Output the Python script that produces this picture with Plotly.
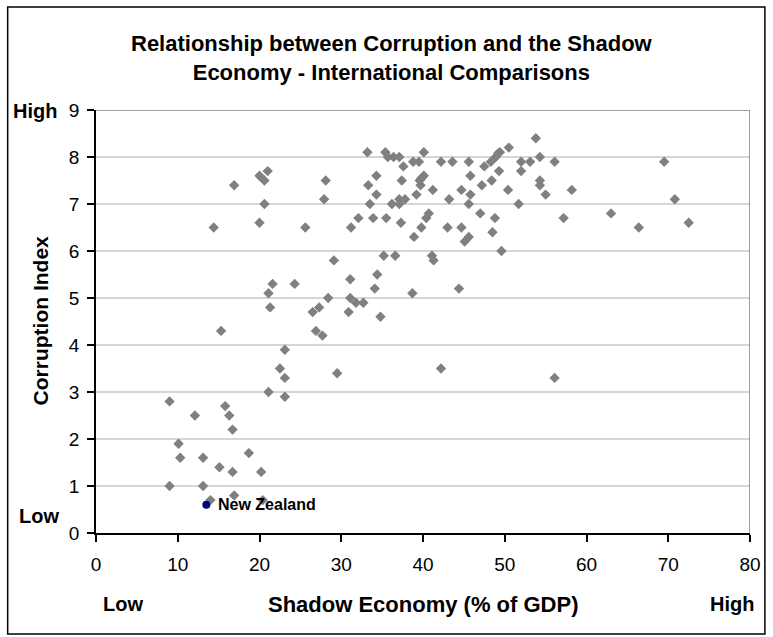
import plotly.graph_objects as go

# Shadow economy (% of GDP) and corruption index per country
shadow_economy = [
    21.0, 20.0, 20.6, 16.9, 20.6, 20.0, 14.4, 25.6, 33.2, 35.4,
    35.7, 36.4, 37.1, 40.1, 38.8, 39.5, 42.2, 43.6, 45.6, 37.6,
    34.3, 28.1, 33.3, 37.4, 40.1, 39.8, 39.6, 39.7, 34.3, 39.2,
    41.2, 27.9, 33.5, 36.2, 37.1, 37.1, 37.8, 32.1, 33.9, 35.5,
    31.2, 37.3, 39.8, 38.9, 40.7, 40.4, 43.0, 43.2, 44.7, 45.8,
    45.8, 45.6, 44.7, 45.6, 45.1, 47.0, 47.2, 47.5, 48.3, 48.9,
    49.2, 49.4, 50.5, 49.3, 48.4, 50.4, 48.8, 48.5, 49.6, 51.7,
    52.0, 52.0, 29.1, 31.1, 34.4, 35.2, 36.6, 41.1, 41.3, 53.8,
    54.3, 53.1, 56.1, 54.3, 54.3, 55.0, 58.2, 57.2, 69.5, 70.8,
    63.0, 66.4, 72.5, 21.6, 24.3, 21.1, 21.3, 26.5, 27.3, 26.9,
    15.3, 23.1, 22.5, 23.1, 21.1, 23.1, 9.0, 12.1, 15.8, 16.3,
    16.7, 10.1, 10.3, 13.1, 15.1, 16.7, 18.7, 20.2, 9.0, 13.1,
    14.0, 16.9, 20.4, 34.1, 38.7, 44.4, 28.4, 31.1, 31.8, 32.7,
    30.9, 34.8, 27.7, 29.5, 42.2, 56.1,
]
corruption_index = [
    7.7, 7.6, 7.5, 7.4, 7.0, 6.6, 6.5, 6.5, 8.1, 8.1,
    8.0, 8.0, 8.0, 8.1, 7.9, 7.9, 7.9, 7.9, 7.9, 7.8,
    7.6, 7.5, 7.4, 7.5, 7.6, 7.55, 7.5, 7.4, 7.2, 7.2,
    7.3, 7.1, 7.0, 7.0, 7.1, 7.0, 7.1, 6.7, 6.7, 6.7,
    6.5, 6.6, 6.5, 6.3, 6.8, 6.7, 6.5, 7.1, 7.3, 7.6,
    7.2, 7.0, 6.5, 6.3, 6.2, 6.8, 7.4, 7.8, 7.9, 8.0,
    8.08, 8.1, 8.2, 7.7, 7.5, 7.3, 6.7, 6.4, 6.0, 7.0,
    7.9, 7.7, 5.8, 5.4, 5.5, 5.9, 5.9, 5.9, 5.8, 8.4,
    8.0, 7.9, 7.9, 7.5, 7.4, 7.2, 7.3, 6.7, 7.9, 7.1,
    6.8, 6.5, 6.6, 5.3, 5.3, 5.1, 4.8, 4.7, 4.8, 4.3,
    4.3, 3.9, 3.5, 3.3, 3.0, 2.9, 2.8, 2.5, 2.7, 2.5,
    2.2, 1.9, 1.6, 1.6, 1.4, 1.3, 1.7, 1.3, 1.0, 1.0,
    0.7, 0.8, 0.7, 5.2, 5.1, 5.2, 5.0, 5.0, 4.9, 4.9,
    4.7, 4.6, 4.2, 3.4, 3.5, 3.3,
]

nz_label = "New Zealand"
nz_shadow = [13.5]
nz_corruption = [0.6]

x_ticks = [0, 10, 20, 30, 40, 50, 60, 70, 80]
y_ticks = [0, 1, 2, 3, 4, 5, 6, 7, 8, 9]

W, H = 773, 637
L, R, T, B = 96, 18, 110, 104
FONT = "Liberation Sans, Arial, sans-serif"


def px_x(px):
    return (px - L) / (W - L - R)


def px_y(py):
    return (H - B - py) / (H - T - B)


fig = go.Figure()
fig.add_trace(go.Scatter(
    x=shadow_economy, y=corruption_index, mode="markers",
    marker=dict(symbol="diamond", size=8, color="#808080"),
    showlegend=False, hoverinfo="x+y",
))
fig.add_trace(go.Scatter(
    x=nz_shadow, y=nz_corruption, mode="markers",
    marker=dict(symbol="circle", size=8, color="#000080"),
    showlegend=False,
))

annotations = [
    dict(text="<b>Relationship between Corruption and the Shadow<br>Economy - International Comparisons</b>",
         x=px_x(394), y=px_y(58), font=dict(size=22)),
    dict(text="<b>High</b>", x=px_x(35), y=px_y(111), font=dict(size=20)),
    dict(text="<b>Low</b>", x=px_x(39), y=px_y(516), font=dict(size=20)),
    dict(text="<b>Low</b>", x=px_x(123), y=px_y(604), font=dict(size=20)),
    dict(text="<b>High</b>", x=px_x(737), y=px_y(604), font=dict(size=20)),
    dict(text="<b>Shadow Economy (% of GDP)</b>", x=px_x(425), y=px_y(604), font=dict(size=22)),
    dict(text="<b>Corruption Index</b>", x=px_x(40), y=px_y(321), textangle=-90, font=dict(size=21)),
]
for a in annotations:
    a.update(xref="paper", yref="paper", xanchor="center", yanchor="middle",
             showarrow=False, align="center")
    a["font"].update(family=FONT, color="black")

# label beside the highlighted country
annotations.append(dict(
    text="<b>" + nz_label + "</b>", x=nz_shadow[0], y=nz_corruption[0],
    xref="x", yref="y", xanchor="left", yanchor="middle", xshift=10,
    showarrow=False, font=dict(family=FONT, size=16, color="black"),
))

shapes = [
    # grey top and right frame of the plot area
    dict(type="line", xref="x", yref="y", x0=0, x1=80, y0=9, y1=9,
         line=dict(color="#808080", width=1.5)),
    dict(type="line", xref="x", yref="y", x0=80, x1=80, y0=0, y1=9,
         line=dict(color="#808080", width=1.5)),
    # outer chart border
    dict(type="rect", xref="paper", yref="paper",
         x0=px_x(7), x1=px_x(770), y0=px_y(634), y1=px_y(7),
         line=dict(color="black", width=1.5), layer="below"),
]

fig.update_layout(
    width=W, height=H,
    margin=dict(l=L, r=R, t=T, b=B),
    paper_bgcolor="white", plot_bgcolor="white",
    font=dict(family=FONT, color="black"),
    annotations=annotations, shapes=shapes,
    xaxis=dict(range=[0, 80], tickvals=x_ticks, showgrid=False, zeroline=False,
               showline=True, linecolor="black", linewidth=1.5,
               ticks="outside", ticklen=7, tickcolor="black", tickwidth=1.5,
               tickfont=dict(size=19, family=FONT), ticklabelstandoff=6),
    yaxis=dict(range=[0, 9], tickvals=y_ticks, showgrid=True, gridcolor="#d6d6d6",
               gridwidth=1.5, zeroline=False,
               showline=True, linecolor="black", linewidth=1.5,
               ticks="outside", ticklen=7, tickcolor="black", tickwidth=1.5,
               tickfont=dict(size=19, family=FONT), ticklabelstandoff=4),
)

fig.write_html("out.html")
